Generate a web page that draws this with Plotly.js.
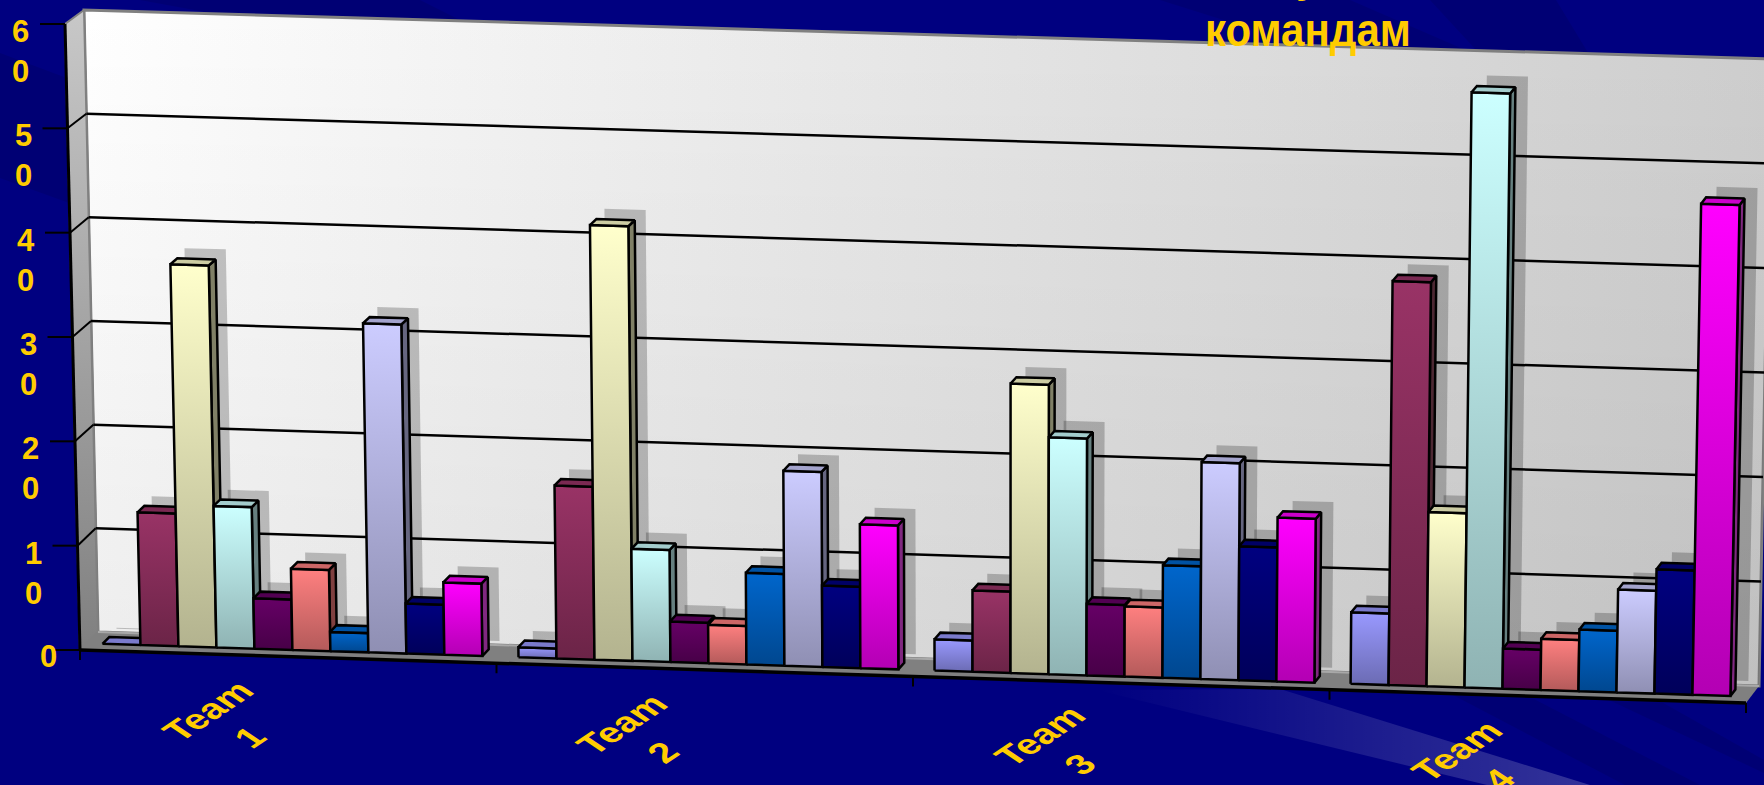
<!DOCTYPE html>
<html>
<head>
<meta charset="utf-8">
<script src="https://cdn.plot.ly/plotly-3.0.1.min.js"></script>
<style>html,body{margin:0;padding:0;background:#000080;overflow:hidden}#chart{width:1764px;height:785px}</style>
</head>
<body>
<div id="chart"></div>
<script>
// Categories and axis scale
const teams = ['Team 1', 'Team 2', 'Team 3', 'Team 4'];
const valueTicks = [0, 10, 20, 30, 40, 50, 60];

// One array per series, one value per team
const s1 = [0, 0.96, 3, 6.86];
const s2 = [12.75, 16.6, 7.8, 38.7];
const s3 = [36.7, 41.7, 27.75, 16.7];
const s4 = [13.6, 10.75, 22.7, 57];
const s5 = [4.84, 3.9, 6.86, 3.86];
const s6 = [7.8, 3.7, 6.75, 4.9];
const s7 = [1.85, 8.8, 10.8, 5.9];
const s8 = [31.6, 18.7, 20.8, 9.85];
const s9 = [4.8, 7.8, 12.85, 11.9];
const s10 = [6.95, 13.8, 15.7, 47];
const seriesValues = [s1, s2, s3, s4, s5, s6, s7, s8, s9, s10];
const seriesColors = ['#9999FF', '#993366', '#FFFFCC', '#CCFFFF', '#660066',
                      '#FF8080', '#0066CC', '#CCCCFF', '#000080', '#FF00FF'];

const GOLD = '#FFCC00';
const FONT = 'Liberation Sans, Arial, sans-serif';

// Corners of the perspective box: [front/back][left/right][floor/top]
const BOX = {
  fl0: [80, 650],  fr0: [1746, 703], fl1: [65, 24],  fr1: [1758, 76],
  bl0: [98, 632],  br0: [1759, 686], bl1: [84, 10],  br1: [1771, 59]
};
const lerp = (a, b, t) => a + (b - a) * t;
const lerp2 = (a, b, t) => [lerp(a[0], b[0], t), lerp(a[1], b[1], t)];

// Maps (category position, depth 0..1, value) into the drawing plane
function project(u, d, v) {
  const t = u / teams.length, h = v / 60;
  const front = lerp2(lerp2(BOX.fl0, BOX.fr0, t), lerp2(BOX.fl1, BOX.fr1, t), h);
  const back = lerp2(lerp2(BOX.bl0, BOX.br0, t), lerp2(BOX.bl1, BOX.br1, t), h);
  return lerp2(front, back, d);
}

function shade(hex, k, floor) {
  const c = [1, 3, 5].map(i => parseInt(hex.substr(i, 2), 16));
  const m = c.map(x => Math.max(Math.round(x * k), floor || 0));
  return 'rgb(' + m.join(',') + ')';
}

// Closed polygon as a filled scatter trace
function poly(pts, opts) {
  const o = opts || {};
  const closed = pts.concat([pts[0]]);
  const tr = {
    type: 'scatter', mode: 'lines', x: closed.map(p => p[0]), y: closed.map(p => p[1]),
    fill: 'toself', hoverinfo: 'skip', showlegend: false,
    line: o.line || { width: 0, color: 'rgba(0,0,0,0)' }
  };
  if (o.gradient) tr.fillgradient = o.gradient; else tr.fillcolor = o.fill;
  return tr;
}
function seg(a, b, color, width) {
  return { type: 'scatter', mode: 'lines', x: [a[0], b[0]], y: [a[1], b[1]], hoverinfo: 'skip',
           showlegend: false, line: { color: color, width: width } };
}
// The y axis runs downward, so the colorscale starts at the bottom of each shape
const vGrad = (top, bottom) => ({ type: 'vertical', colorscale: [[0, bottom], [1, top]] });
const hGrad = (l, r) => ({ type: 'horizontal', colorscale: [[0, l], [1, r]] });

const traces = [];

// Background light beam and dark streaks
const bg = '#000074';
traces.push(poly([[1097, 690], [1280, 689], [1590, 785], [1487, 785]],
  { gradient: hGrad('rgba(255,255,255,0)', 'rgba(255,255,255,0.2)') }));
[
  [[0, 53], [72, 80], [72, 204], [0, 178]],
  [[140, 0], [420, 0], [480, 30], [260, 22]],
  [[1160, 0], [1350, 0], [1470, 52], [1300, 44]],
  [[1430, 0], [1556, 0], [1590, 56], [1478, 52]],
  [[1453, 695], [1530, 697], [1700, 785], [1625, 785]],
  [[1609, 700], [1658, 700], [1764, 760], [1764, 773]]
].forEach(p => traces.push(poly(p, { fill: bg })));

// Back wall, side wall and floor
const wall = [project(0, 1, 0), project(4, 1, 0), project(4, 1, 60), project(0, 1, 60)];
traces.push(poly(wall, { gradient: hGrad('#FFFFFF', '#CECECE'), line: { color: '#808080', width: 3 } }));
traces.push(poly(wall, { gradient: vGrad('rgba(0,0,0,0)', 'rgba(0,0,0,0.07)') }));
traces.push(poly([project(0, 0, 0), project(0, 1, 0), project(0, 1, 60), project(0, 0, 60)],
  { gradient: vGrad('#C8C8C8', '#808080'), line: { color: '#808080', width: 2 } }));
traces.push(poly([project(0, 0, 0), project(4, 0, 0), project(4, 1, 0), project(0, 1, 0)], { fill: '#808080' }));
traces.push(seg(project(0, 1, 0), project(4, 1, 0), '#A8A8A8', 2));

// Gridlines on both walls
valueTicks.slice(1, -1).forEach(v => {
  traces.push(seg(project(0, 1, v), project(4, 1, v), '#000000', 2.5));
  traces.push(seg(project(0, 0, v), project(0, 1, v), '#000000', 2));
});

const GROUP_GAP = 0.038, BAR_W = 0.0913, D0 = 0.37, D1 = 0.75;
const barSpan = (i, j) => [i + GROUP_GAP + j * BAR_W, i + GROUP_GAP + (j + 1) * BAR_W];

// Cast shadows on the wall, beneath every bar
teams.forEach((_, i) => seriesValues.forEach((vals, j) => {
  const [u0, u1] = barSpan(i, j), v = vals[i];
  const t = u0 / teams.length;
  const dl = 14 + 1.5 * t, dr = 17 + t, up = 16 + t;
  const a = project(u0, D0, 0), b = project(u1, D0, 0), c = project(u1, D0, v), e = project(u0, D0, v);
  traces.push(poly([[a[0] + dl, a[1] - 15], [b[0] + dr, b[1] - 15], [c[0] + dr, c[1] - up], [e[0] + dl, e[1] - up]],
    { fill: 'rgba(0,0,0,0.22)' }));
}));

// Axis lines and tick marks
traces.push(seg(project(0, 0, 0), project(0, 0, 60), '#000000', 3));
traces.push(seg(project(0, 0, 0), project(4, 0, 0), '#000000', 3.5));
valueTicks.forEach(v => {
  const p = project(0, 0, v);
  traces.push(seg([p[0] - 25, p[1]], p, '#000000', 2));
});
for (let i = 0; i <= teams.length; i++) {
  const p = project(i, 0, 0);
  traces.push(seg(p, [p[0], p[1] + 10], '#000000', 2));
}

// Bars, left to right so each covers its neighbour's side face
const edge = { color: '#000000', width: 2.5 };
teams.forEach((_, i) => seriesValues.forEach((vals, j) => {
  const [u0, u1] = barSpan(i, j), v = vals[i], col = seriesColors[j];
  traces.push(poly([project(u1, D0, 0), project(u1, D1, 0), project(u1, D1, v), project(u1, D0, v)],
    { fill: shade(col, 0.5, 40), line: edge }));
  if (v > 0) {
    traces.push(poly([project(u0, D0, 0), project(u1, D0, 0), project(u1, D0, v), project(u0, D0, v)],
      { gradient: vGrad(col, shade(col, 0.7)), line: edge }));
  }
  traces.push(poly([project(u0, D0, v), project(u1, D0, v), project(u1, D1, v), project(u0, D1, v)],
    { fill: shade(col, 0.8), line: edge }));
}));

// Tick labels and title are annotations placed beside the projected axes
const annotations = [];
const stretches = [];
function label(text, x, y, size, angle, sx, sy, anchor) {
  annotations.push({ text: text, x: x, y: y, xref: 'x', yref: 'y', showarrow: false,
    xanchor: 'center', yanchor: anchor || 'middle', textangle: angle || 0,
    font: { family: FONT, size: size, color: GOLD, weight: 700 } });
  stretches.push({ x: x, y: y, sx: sx || 1, sy: sy || 1 });
}
valueTicks.forEach(v => {
  const p = project(0, 0, v);
  if (v === 0) label('0', p[0] - 32, p[1] + 6, 31);
  else label(String(v).split('').join('<br>'), p[0] - 44.5, p[1] + 27.5, 31);
});
const teamWordAt = [[207, 711], [621.5, 724], [1039, 736], [1456, 751]];
const teamNumAt = [[250, 737], [663, 752], [1080, 764], [1499, 779]];
teams.forEach((name, i) => {
  const parts = name.split(' ');
  label(parts[0], teamWordAt[i][0], teamWordAt[i][1], 28, -45, 1.5, 1);
  label(parts[1], teamNumAt[i][0], teamNumAt[i][1], 28, -45, 1.5, 1);
});
label('командам', 1307.5, 30, 42, 0, 1, 1.1);
label('у', 1308, 3, 42, 0, 1, 1, 'bottom');

Plotly.newPlot('chart', traces, {
  width: 1764, height: 785, margin: { l: 0, r: 0, t: 0, b: 0 },
  paper_bgcolor: '#000080', plot_bgcolor: '#000080', showlegend: false,
  xaxis: { range: [0, 1764], visible: false, fixedrange: true },
  yaxis: { range: [785, 0], visible: false, fixedrange: true },
  annotations: annotations
}, { displayModeBar: false, staticPlot: true }).then(() => {
  // Widen the slanted category labels and heighten the title about their own centres
  document.querySelectorAll('#chart g.annotation').forEach(g => {
    const s = stretches[+g.getAttribute('data-index')];
    if (s && (s.sx !== 1 || s.sy !== 1)) {
      g.setAttribute('transform', 'translate(' + s.x + ',' + s.y + ') scale(' + s.sx + ',' + s.sy + ') translate(' + (-s.x) + ',' + (-s.y) + ')');
    }
  });
});
</script>
</body>
</html>
